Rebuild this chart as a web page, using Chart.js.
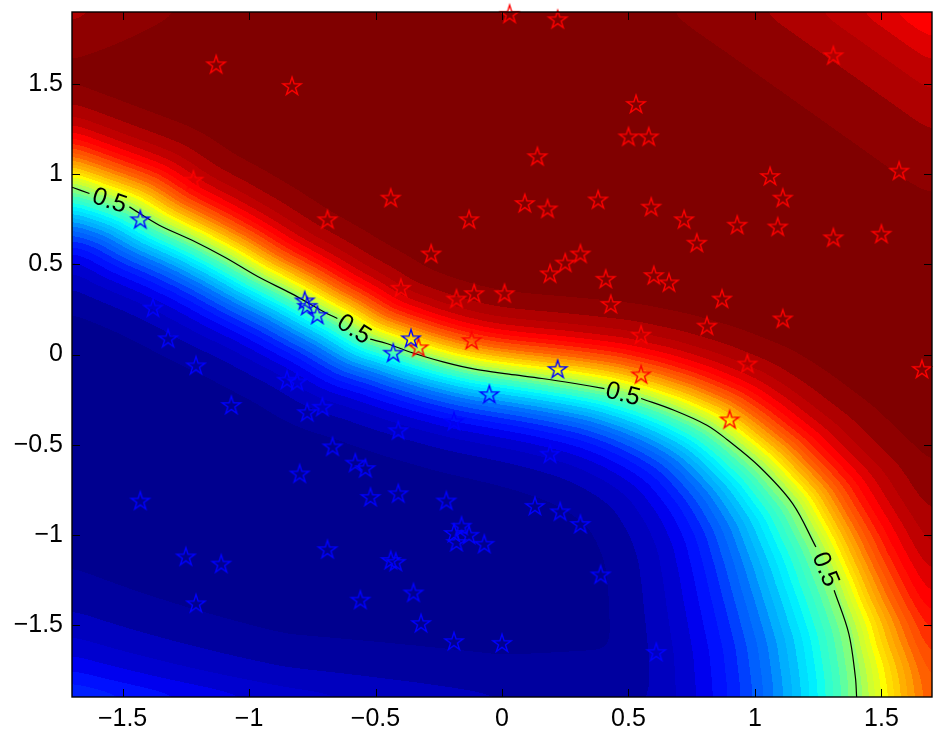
<!DOCTYPE html>
<html>
<head>
<meta charset="utf-8">
<script src="https://cdn.jsdelivr.net/npm/chart.js@4.4.1/dist/chart.umd.min.js"></script>
<style>
  html, body { margin: 0; padding: 0; background: #fff; }
  #wrap { width: 943px; height: 740px; position: relative; }
</style>
</head>
<body>
<div id="wrap"><canvas id="c"></canvas></div>
<script>
"use strict";

// ── data ────────────────────────────────────
const xTicks = [-1.5, -1, -0.5, 0, 0.5, 1, 1.5];
const yTicks = [-1.5, -1, -0.5, 0, 0.5, 1, 1.5];

// 0.5 contour, null = gap where a "0.5" label sits
const contourX = [-1.70, -1.631, null, -1.473, -1.355, -1.225, -1.094, -0.964, -0.834, -0.703, -0.651, null,
  -0.521, -0.456, -0.364, -0.233, -0.103, 0.027, 0.158, 0.288, 0.405, null,
  0.550, 0.680, 0.810, 0.888, 1.019, 1.149, 1.241, null, 1.313, 1.371, 1.397, 1.402];
const contourY = [0.928, 0.893, null, 0.819, 0.717, 0.634, 0.538, 0.431, 0.339, 0.236, 0.200, null,
  0.085, 0.061, 0.014, -0.041, -0.083, -0.109, -0.133, -0.161, -0.189, null,
  -0.244, -0.309, -0.392, -0.470, -0.624, -0.827, -1.068, null, -1.308, -1.548, -1.789, -1.90];
// spread of the colour ramp on each side of the contour (data units)
const contourSRed = [0.145, 0.145, null, 0.14, 0.135, 0.13, 0.13, 0.125, 0.125, 0.12, 0.12, null,
  0.12, 0.12, 0.12, 0.12, 0.12, 0.12, 0.125, 0.13, 0.135, null,
  0.14, 0.145, 0.15, 0.15, 0.155, 0.16, 0.165, null, 0.17, 0.19, 0.23, 0.25];
const contourSBlue = [0.17, 0.17, null, 0.17, 0.165, 0.16, 0.16, 0.155, 0.155, 0.155, 0.155, null,
  0.15, 0.15, 0.15, 0.15, 0.153, 0.155, 0.16, 0.165, 0.17, null,
  0.18, 0.19, 0.20, 0.21, 0.23, 0.26, 0.28, null, 0.30, 0.30, 0.30, 0.30];
const contourLabel = "0.5";

// far-field limit of the ramp (logit units) on a coarse grid
const capX = [-1.7, -0.85, 0, 0.85, 1.7];
const capY = [1.9, 0.95, 0, -0.95, -1.9];
const capZ = [
  [2.75, 4.60, 5.00, 3.30, 1.65],
  [6.00, 6.00, 6.00, 5.15, 3.50],
  [6.00, 6.00, 6.00, 6.00, 6.00],
  [4.35, 6.00, 6.00, 5.00, 6.00],
  [1.50, 2.30, 2.90, 3.00, 6.00]
];

const redX = [-1.13, -0.83, -1.22, 0.03, 0.22, 0.53, 0.50, 0.58, 0.14, 1.31, 1.06, 1.11, 1.57, -0.44, -0.69, -0.13,
  0.09, 0.18, 0.38, 0.59, 0.72, 0.77, 0.93, 1.09, 1.31, 1.50, -0.28, -0.40, -0.18, -0.11, 0.01, 0.19,
  0.25, 0.31, 0.41, 0.43, -0.12, -0.33, 0.60, 0.66, 0.87, 1.11, 0.81, 0.55, 0.97, 1.66, 0.55, 0.90];
const redY = [1.61, 1.49, 0.97, 1.89, 1.86, 1.39, 1.21, 1.21, 1.10, 1.66, 0.99, 0.87, 1.02, 0.87, 0.75, 0.75,
  0.84, 0.81, 0.86, 0.82, 0.75, 0.62, 0.72, 0.71, 0.65, 0.67, 0.56, 0.37, 0.31, 0.34, 0.34, 0.45,
  0.51, 0.56, 0.42, 0.28, 0.08, 0.04, 0.44, 0.40, 0.31, 0.20, 0.16, 0.11, -0.05, -0.08, -0.11, -0.36];

const blueX = [-1.43, -0.78, -0.77, -0.73, -1.38, -1.32, -1.21, -1.07, -0.85, -0.81, -0.77, -0.80, -1.43, -1.25, -1.11, -1.21,
  -0.52, -0.41, -0.22, 0.13, 0.23, 0.31, -0.16, -0.19, -0.13, -0.18, -0.07, -0.69, -0.44, -0.42, 0.39, -0.56,
  -0.35, -0.32, -0.19, 0.00, 0.61, -0.36, -0.43, 0.22, -0.05, -0.71, -0.19, -0.41, -0.67, -0.58, -0.54, 0.19];
const blueY = [0.75, 0.30, 0.27, 0.22, 0.26, 0.09, -0.06, -0.28, -0.14, -0.15, -0.32, -0.66, -0.81, -1.12, -1.16, -1.38,
  -0.79, -0.77, -0.81, -0.84, -0.87, -0.94, -0.95, -0.99, -1.00, -1.04, -1.05, -1.08, -1.14, -1.15, -1.22, -1.36,
  -1.32, -1.49, -1.59, -1.60, -1.65, 0.09, 0.01, -0.08, -0.22, -0.29, -0.37, -0.42, -0.51, -0.60, -0.63, -0.55];

// ── styling ─────────────────────────────────
const FONT = "'Liberation Sans', Arial, Helvetica, sans-serif";
const LEVELS = 40;

// MATLAB jet(64)
function jet64() {
  const m = 64, n = Math.ceil(m / 4);
  const u = [];
  for (let i = 1; i <= n; i++) u.push(i / n);
  for (let i = 0; i < n - 1; i++) u.push(1);
  for (let i = n; i >= 1; i--) u.push(i / n);
  const J = Array.from({ length: m }, () => [0, 0, 0]);
  const g0 = Math.ceil(n / 2) - (m % 4 === 1 ? 1 : 0);
  for (let i = 1; i <= u.length; i++) {
    const g = g0 + i, r = g + n, b = g - n;
    if (r <= m) J[r - 1][0] = u[i - 1];
    if (g <= m) J[g - 1][1] = u[i - 1];
    if (b >= 1) J[b - 1][2] = u[i - 1];
  }
  return J.map((c) => c.map((v) => Math.round(v * 255)));
}

function capAt(vx, vy) {
  const nx = capX.length, ny = capY.length;
  let fx = (vx - capX[0]) / (capX[nx - 1] - capX[0]) * (nx - 1);
  let fy = (vy - capY[0]) / (capY[ny - 1] - capY[0]) * (ny - 1);
  fx = Math.max(0, Math.min(nx - 1, fx));
  fy = Math.max(0, Math.min(ny - 1, fy));
  const i0 = Math.min(nx - 2, Math.floor(fx)), j0 = Math.min(ny - 2, Math.floor(fy));
  const u = fx - i0, v = fy - j0;
  const a = capZ[j0][i0], b = capZ[j0][i0 + 1], c = capZ[j0 + 1][i0], d = capZ[j0 + 1][i0 + 1];
  return (a * (1 - u) + b * u) * (1 - v) + (c * (1 - u) + d * u) * v;
}

// 3-pass box blur, edges clamped
function blur(buf, w, h, rx, ry) {
  const tmp = new Float32Array(buf.length);
  for (let pass = 0; pass < 3; pass++) {
    for (let j = 0; j < h; j++) {
      const row = j * w;
      for (let i = 0; i < w; i++) {
        let acc = 0;
        for (let k = -rx; k <= rx; k++) acc += buf[row + Math.max(0, Math.min(w - 1, i + k))];
        tmp[row + i] = acc / (2 * rx + 1);
      }
    }
    for (let i = 0; i < w; i++) {
      for (let j = 0; j < h; j++) {
        let acc = 0;
        for (let k = -ry; k <= ry; k++) acc += tmp[Math.max(0, Math.min(h - 1, j + k)) * w + i];
        buf[j * w + i] = acc / (2 * ry + 1);
      }
    }
  }
}

function buildField(chart) {
  const { chartArea: a, scales } = chart;
  const w = Math.round(a.right - a.left), h = Math.round(a.bottom - a.top);
  const off = document.createElement("canvas");
  off.width = w;
  off.height = h;
  const g = off.getContext("2d");
  const img = g.createImageData(w, h);

  // contour without the label gaps
  const px = [], py = [], sr = [], sb = [];
  contourX.forEach((v, i) => {
    if (v === null) return;
    px.push(v); py.push(contourY[i]); sr.push(contourSRed[i]); sb.push(contourSBlue[i]);
  });
  const n = px.length;
  const lut = jet64();

  const colX = new Float64Array(w), rowY = new Float64Array(h);
  for (let i = 0; i < w; i++) colX[i] = scales.x.getValueForPixel(a.left + i + 0.5);
  for (let j = 0; j < h; j++) rowY[j] = scales.y.getValueForPixel(a.top + j + 0.5);

  const zbuf = new Float32Array(w * h);
  for (let j = 0; j < h; j++) {
    const vy = rowY[j];
    for (let i = 0; i < w; i++) {
      const vx = colX[i];
      let best = Infinity, side = 1;
      for (let k = 0; k < n - 1; k++) {
        const ax = px[k], ay = py[k], dx = px[k + 1] - ax, dy = py[k + 1] - ay;
        let t = ((vx - ax) * dx + (vy - ay) * dy) / (dx * dx + dy * dy);
        if (t < 0 && k > 0) t = 0;
        if (t > 1 && k < n - 2) t = 1;
        const ex = vx - (ax + t * dx), ey = vy - (ay + t * dy);
        const d2 = ex * ex + ey * ey;
        if (d2 < best) {
          best = d2;
          side = (dx * (vy - ay) - dy * (vx - ax)) > 0 ? 1 : -1;
        }
      }
      let ws = 0, rs = 0, bs = 0;
      for (let k = 0; k < n; k++) {
        const ex = vx - px[k], ey = vy - py[k];
        const q = ex * ex + ey * ey + 0.003;
        const wt = 1 / (q * q);
        ws += wt; rs += wt * sr[k]; bs += wt * sb[k];
      }
      const s = side > 0 ? rs / ws : bs / ws;
      let z = side * Math.sqrt(best) / s;
      const cap = capAt(vx, vy);
      if (z > cap) z = cap; else if (z < -cap) z = -cap;
      zbuf[j * w + i] = z;
    }
  }
  blur(zbuf, w, h, 9, 6);

  for (let o = 0; o < w * h; o++) {
    const p = 1 / (1 + Math.exp(-zbuf[o]));
    const lvl = Math.min(LEVELS - 1, Math.floor(p * LEVELS));
    const c = lut[Math.min(63, Math.floor(lvl / (LEVELS - 1) * 64))];
    img.data[o * 4] = c[0]; img.data[o * 4 + 1] = c[1]; img.data[o * 4 + 2] = c[2]; img.data[o * 4 + 3] = 255;
  }
  g.putImageData(img, 0, 0);
  return off;
}

const fieldPlugin = {
  id: "field",
  beforeDatasetsDraw(chart) {
    const a = chart.chartArea;
    if (!chart.$field) chart.$field = buildField(chart);
    chart.ctx.drawImage(chart.$field, a.left, a.top, chart.$field.width, chart.$field.height);
  }
};

// inline "0.5" labels in the contour gaps
const labelPlugin = {
  id: "contourLabels",
  afterDatasetsDraw(chart) {
    const { ctx, scales: { x, y } } = chart;
    ctx.save();
    ctx.font = "25px " + FONT;
    ctx.fillStyle = "#000";
    ctx.textAlign = "center";
    ctx.textBaseline = "middle";
    contourX.forEach((v, i) => {
      if (v !== null || i === 0) return;
      const x1 = x.getPixelForValue(contourX[i - 1]), y1 = y.getPixelForValue(contourY[i - 1]);
      const x2 = x.getPixelForValue(contourX[i + 1]), y2 = y.getPixelForValue(contourY[i + 1]);
      let ang = Math.atan2(y2 - y1, x2 - x1);
      if (ang > Math.PI / 2) ang -= Math.PI;
      if (ang < -Math.PI / 2) ang += Math.PI;
      ctx.save();
      ctx.translate((x1 + x2) / 2, (y1 + y2) / 2 + 1);
      ctx.rotate(ang);
      ctx.fillText(contourLabel, 0, 0);
      ctx.restore();
    });
    ctx.restore();
  }
};

// box + inward ticks on all four sides
const framePlugin = {
  id: "frame",
  afterDraw(chart) {
    const { ctx, chartArea: a, scales: { x, y } } = chart;
    const L = 8;
    ctx.save();
    ctx.strokeStyle = "#000";
    ctx.lineWidth = 1;
    ctx.beginPath();
    xTicks.forEach((v) => {
      const X = Math.round(x.getPixelForValue(v)) + 0.5;
      ctx.moveTo(X, a.bottom); ctx.lineTo(X, a.bottom - L);
      ctx.moveTo(X, a.top); ctx.lineTo(X, a.top + L);
    });
    yTicks.forEach((v) => {
      const Y = Math.round(y.getPixelForValue(v)) + 0.5;
      ctx.moveTo(a.left, Y); ctx.lineTo(a.left + L, Y);
      ctx.moveTo(a.right, Y); ctx.lineTo(a.right - L, Y);
    });
    ctx.stroke();
    ctx.lineWidth = 1.4;
    ctx.strokeRect(a.left, a.top, a.right - a.left, a.bottom - a.top);
    ctx.restore();
  }
};

function makeStar(color) {
  const R = 9.5, size = 24;
  const c = document.createElement("canvas");
  c.width = size;
  c.height = size;
  const g = c.getContext("2d");
  g.strokeStyle = color;
  g.lineWidth = 1.4;
  g.beginPath();
  for (let k = 0; k < 10; k++) {
    const r = k % 2 ? R * 0.382 : R;
    const ang = -Math.PI / 2 + k * Math.PI / 5;
    g.lineTo(size / 2 + r * Math.cos(ang), size / 2 + 0.8 + r * Math.sin(ang));
  }
  g.closePath();
  g.stroke();
  return c;
}

const fmt = (v) => (v < 0 ? "\u2212" : "") + Math.abs(v);

new Chart(document.getElementById("c"), {
  type: "scatter",
  data: {
    datasets: [
      {
        label: "contour 0.5",
        data: contourX.map((v, i) => ({ x: v, y: contourY[i] })),
        showLine: true,
        spanGaps: false,
        tension: 0.35,
        borderColor: "#000",
        borderWidth: 1.2,
        pointRadius: 0,
        order: 3
      },
      {
        label: "class +1",
        data: redX.map((v, i) => ({ x: v, y: redY[i] })),
        pointStyle: makeStar("#ff0000"),
        pointRadius: 10,
        clip: false,
        order: 2
      },
      {
        label: "class -1",
        data: blueX.map((v, i) => ({ x: v, y: blueY[i] })),
        pointStyle: makeStar("#0000ff"),
        pointRadius: 10,
        clip: false,
        order: 1
      }
    ]
  },
  options: {
    responsive: true,
    maintainAspectRatio: false,
    animation: false,
    devicePixelRatio: 1,
    events: [],
    layout: { padding: { top: 12, right: 2, left: 0, bottom: 0 } },
    plugins: { legend: { display: false }, tooltip: { enabled: false } },
    scales: {
      x: {
        type: "linear",
        min: -1.7,
        max: 1.7,
        afterBuildTicks: (s) => { s.ticks = xTicks.map((v) => ({ value: v })); },
        afterFit: (s) => { s.height = 43; s.paddingLeft = 0; s.paddingRight = 0; },
        grid: { display: false, drawTicks: false },
        border: { display: false },
        ticks: { font: { family: FONT, size: 25 }, color: "#000", padding: 7, maxRotation: 0, autoSkip: false, callback: fmt }
      },
      y: {
        type: "linear",
        min: -1.9,
        max: 1.9,
        afterBuildTicks: (s) => { s.ticks = yTicks.map((v) => ({ value: v })); },
        afterFit: (s) => { s.width = 72; s.paddingTop = 0; s.paddingBottom = 0; },
        grid: { display: false, drawTicks: false },
        border: { display: false },
        ticks: { font: { family: FONT, size: 25 }, color: "#000", padding: 9, autoSkip: false, callback: fmt }
      }
    }
  },
  plugins: [fieldPlugin, labelPlugin, framePlugin]
});
</script>
</body>
</html>
